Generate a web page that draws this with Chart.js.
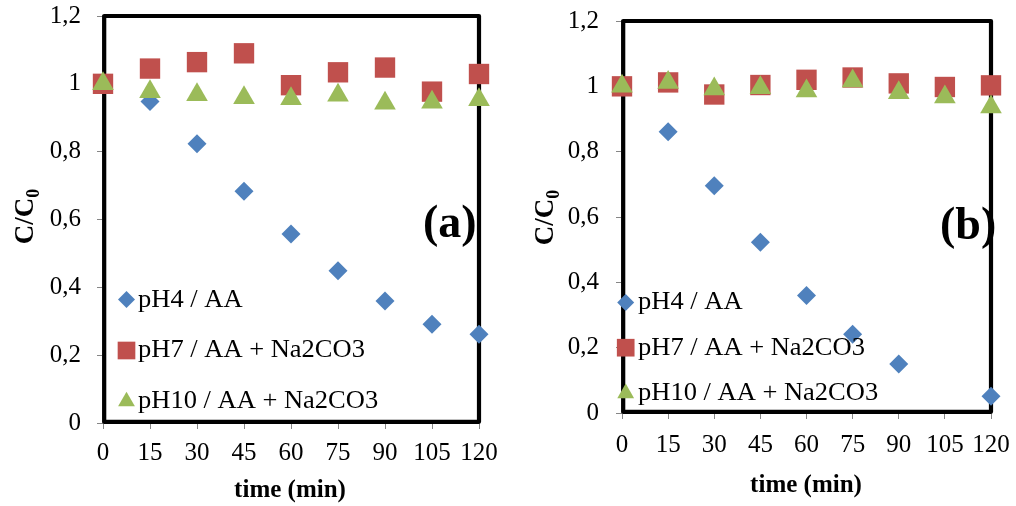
<!DOCTYPE html>
<html>
<head>
<meta charset="utf-8">
<script src="https://cdn.jsdelivr.net/npm/chart.js@4.4.1/dist/chart.umd.min.js"></script>
<style>
  html, body { margin: 0; padding: 0; background: #fff; }
  .wrap { display: flex; width: 1016px; height: 506px; }
  canvas { display: block; }
</style>
</head>
<body>
<div class="wrap">
  <canvas id="panelA" width="508" height="506"></canvas>
  <canvas id="panelB" width="508" height="506"></canvas>
</div>
<script>
// sampling times (min)
const times = [0, 15, 30, 45, 60, 75, 90, 105, 120];
const seriesNames = ['pH4 / AA', 'pH7 / AA + Na2CO3', 'pH10 / AA + Na2CO3'];
const yTickValues = [0, 0.2, 0.4, 0.6, 0.8, 1, 1.2];

// panel (a): C/C0
const aPH4  = [1.000, 0.948, 0.823, 0.683, 0.557, 0.449, 0.360, 0.291, 0.262];
const aPH7  = [1.000, 1.045, 1.064, 1.090, 0.996, 1.034, 1.048, 0.977, 1.029];
const aPH10 = [1.000, 0.977, 0.968, 0.959, 0.956, 0.966, 0.943, 0.946, 0.953];

// panel (b): C/C0 (no pH4 sample at 105 min)
const bPH4  = [1.000, 0.861, 0.696, 0.523, 0.360, 0.241, 0.150, null, 0.051];
const bPH7  = [1.000, 1.012, 0.975, 1.004, 1.020, 1.027, 1.009, 0.998, 1.003];
const bPH10 = [1.000, 1.012, 0.992, 0.996, 0.986, 1.016, 0.980, 0.967, 0.937];

const SERIF = "'Liberation Serif', 'Times New Roman', serif";
const AXIS_GREY = '#868686';

const markerStyles = [
  { pointStyle: 'rectRot',  color: '#4F81BD', radius: 9.5,  legendRadius: 8.5 },
  { pointStyle: 'rect',     color: '#C0504D', radius: 14.4, legendRadius: 12.5 },
  { pointStyle: 'triangle', color: '#9BBB59', radius: 12.5, legendRadius: 9.7 }
];

function toPoints(values) {
  return times
    .map((t, i) => ({ x: t, y: values[i] }))
    .filter(p => p.y !== null);
}

function fmtTick(v) {
  const r = Math.round(v * 10) / 10;
  return String(r).replace('.', ',');
}

// keep the plot area exactly where the layout padding puts it
function noLabelOverflow(s) {
  s.paddingTop = 0;
  s.paddingBottom = 0;
  s.paddingLeft = 0;
  s.paddingRight = 0;
}

// thick black frame around the plot area, under the markers
const framePlugin = {
  id: 'frame',
  beforeDatasetsDraw(chart) {
    const a = chart.chartArea;
    const ctx = chart.ctx;
    ctx.save();
    ctx.strokeStyle = '#000';
    ctx.lineWidth = 4.2;
    ctx.lineJoin = 'round';
    ctx.strokeRect(a.left + 1.2, a.top, a.right - a.left - 1.2, a.bottom - a.top - 1.2);
    ctx.restore();
  }
};

// axis titles, panel letter and the in-plot legend
const annotationPlugin = {
  id: 'annotations',
  afterDatasetsDraw(chart, args, opts) {
    const ctx = chart.ctx;
    ctx.save();
    ctx.fillStyle = '#000';
    ctx.textBaseline = 'alphabetic';

    // x title
    ctx.font = 'bold 25px ' + SERIF;
    ctx.textAlign = 'center';
    ctx.fillText('time (min)', opts.xTitle.x, opts.xTitle.y);

    // y title C/C0 with subscript
    ctx.save();
    ctx.translate(opts.yTitle.x, opts.yTitle.y);
    ctx.rotate(-Math.PI / 2);
    ctx.font = 'bold 27px ' + SERIF;
    ctx.textAlign = 'left';
    const main = 'C/C';
    const wMain = ctx.measureText(main).width;
    ctx.fillText(main, -wMain / 2, 0);
    ctx.font = 'bold 18px ' + SERIF;
    ctx.fillText('0', wMain / 2, 6);
    ctx.restore();

    // panel letter
    ctx.font = 'bold 46px ' + SERIF;
    ctx.textAlign = 'left';
    ctx.fillText(opts.letter.text, opts.letter.x, opts.letter.y);

    // legend
    ctx.font = '25px ' + SERIF;
    chart.data.datasets.forEach((ds, i) => {
      const m = markerStyles[i];
      const row = opts.legend.rows[i];
      ctx.fillStyle = m.color;
      Chart.helpers.drawPoint(ctx, {
        pointStyle: m.pointStyle, radius: m.legendRadius, rotation: 0, borderWidth: 0
      }, opts.legend.markerX, row.marker);
      ctx.fillStyle = '#000';
      ctx.save();
      ctx.translate(opts.legend.textX, row.baseline);
      ctx.scale(1.06, 1);
      ctx.fillText(ds.label, 0, 0);
      ctx.restore();
    });
    ctx.restore();
  }
};

function makePanel(canvasId, series, box, notes) {
  const datasets = series.map((vals, i) => ({
    label: seriesNames[i],
    data: toPoints(vals),
    pointStyle: markerStyles[i].pointStyle,
    pointRadius: markerStyles[i].radius,
    pointHoverRadius: markerStyles[i].radius,
    pointBackgroundColor: markerStyles[i].color,
    pointBorderColor: markerStyles[i].color,
    pointBorderWidth: 0,
    showLine: false,
    clip: false,
    order: 3 - i
  }));

  return new Chart(document.getElementById(canvasId), {
    type: 'scatter',
    data: { datasets },
    options: {
      responsive: false,
      animation: false,
      events: [],
      layout: { padding: { top: box.top, right: 508 - box.right, left: 0, bottom: 0 } },
      plugins: {
        legend: { display: false },
        tooltip: { enabled: false },
        annotations: notes
      },
      scales: {
        x: {
          type: 'linear',
          min: 0,
          max: 120,
          afterFit: s => { s.height = 506 - box.bottom; noLabelOverflow(s); },
          afterBuildTicks: s => { s.ticks = times.map(v => ({ value: v })); },
          grid: { drawOnChartArea: false, drawTicks: true, tickLength: 6, color: AXIS_GREY },
          border: { display: true, color: AXIS_GREY, width: 1.5 },
          ticks: {
            color: '#000',
            font: { family: SERIF, size: 25 },
            padding: box.xPad,
            maxRotation: 0,
            autoSkip: false
          }
        },
        y: {
          min: 0,
          max: 1.2,
          afterFit: s => { s.width = box.left; noLabelOverflow(s); },
          afterBuildTicks: s => { s.ticks = yTickValues.map(v => ({ value: v })); },
          grid: { drawOnChartArea: false, drawTicks: true, tickLength: 6, color: AXIS_GREY },
          border: { display: true, color: AXIS_GREY, width: 1.5 },
          ticks: {
            color: '#000',
            font: { family: SERIF, size: 25 },
            padding: box.yPad,
            callback: v => fmtTick(v)
          }
        }
      }
    },
    plugins: [framePlugin, annotationPlugin]
  });
}

makePanel('panelA', [aPH4, aPH7, aPH10],
  { left: 103, right: 479, top: 16, bottom: 423, xPad: 9, yPad: 16 },
  {
    xTitle: { x: 290, y: 497 },
    yTitle: { x: 33, y: 221 },
    letter: { text: '(a)', x: 423, y: 237 },
    legend: {
      markerX: 126.5, textX: 138,
      rows: [
        { marker: 299.5, baseline: 307 },
        { marker: 350.5, baseline: 357 },
        { marker: 401.5, baseline: 408 }
      ]
    }
  });

makePanel('panelB', [bPH4, bPH7, bPH10],
  { left: 114, right: 483, top: 21, bottom: 413, xPad: 11, yPad: 17 },
  {
    xTitle: { x: 298, y: 492 },
    yTitle: { x: 45, y: 222 },
    letter: { text: '(b)', x: 432, y: 239 },
    legend: {
      markerX: 117.7, textX: 130,
      rows: [
        { marker: 302.5, baseline: 309 },
        { marker: 347.7, baseline: 355 },
        { marker: 393.3, baseline: 400 }
      ]
    }
  });
</script>
</body>
</html>
